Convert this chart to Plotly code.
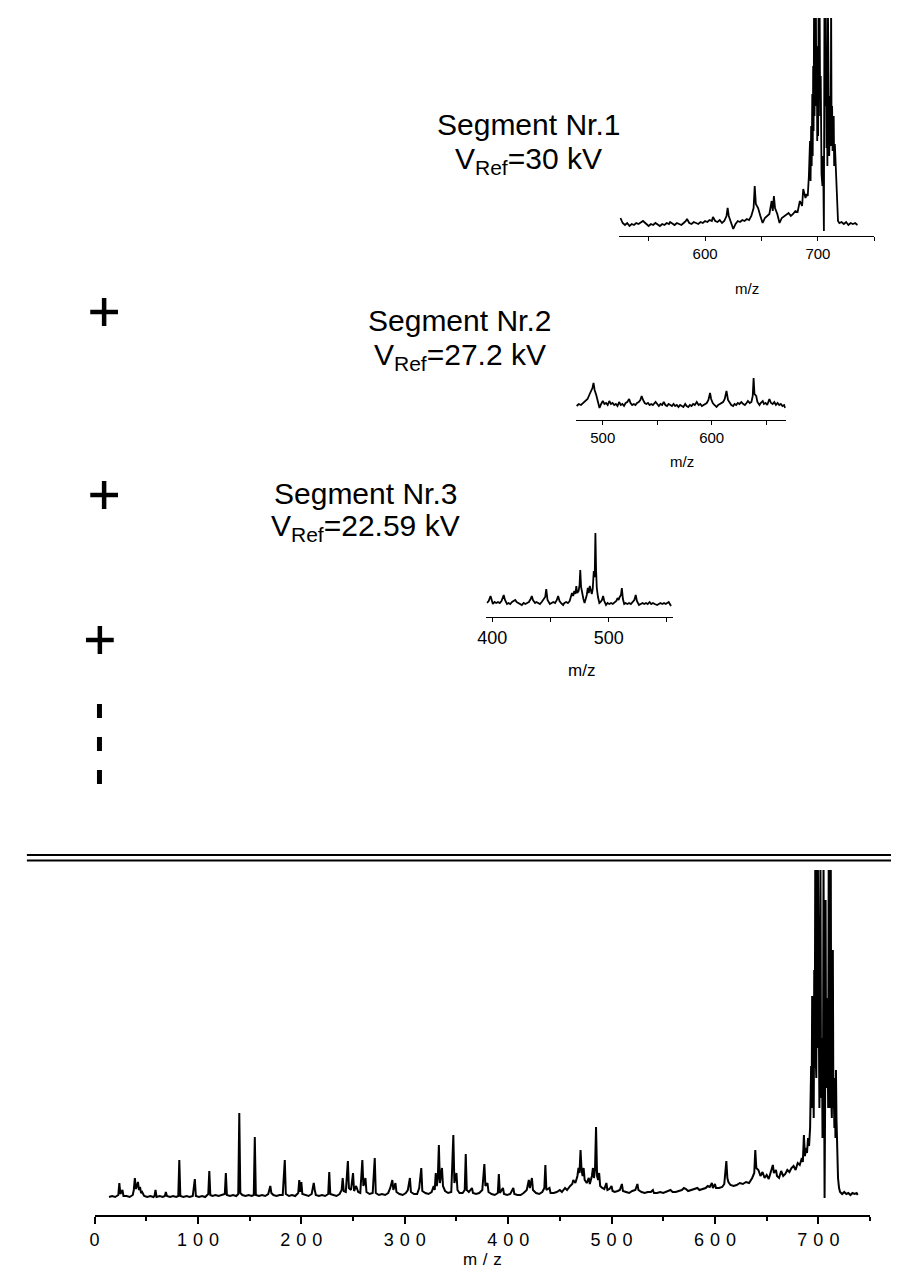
import plotly.graph_objects as go

W, H = 899, 1270

# ---------------- data (m/z, intensity) ----------------
full_mz = [
    14, 17, 20, 23, 24, 25, 27, 28, 31, 34, 37, 38,
    39, 40, 41, 42, 43, 44, 45, 46, 48, 51, 54, 57,
    58, 59, 60, 63, 66, 68, 69, 70, 73, 76, 79, 81,
    82, 83, 86, 89, 92, 95, 97, 98, 101, 104, 107, 110,
    111, 112, 114, 117, 120, 123, 126, 127, 128, 131, 134, 137,
    139, 140, 141, 143, 146, 149, 152, 154, 155, 156, 159, 162,
    165, 168, 170, 171, 173, 176, 179, 182, 184, 185, 188, 191,
    194, 197, 198, 199, 200, 201, 204, 207, 210, 212, 213, 214,
    217, 220, 223, 226, 227, 228, 231, 234, 237, 239, 240, 241,
    243, 245, 246, 248, 250, 251, 253, 255, 257, 259, 260, 262,
    263, 266, 269, 271, 272, 275, 278, 281, 284, 286, 288, 289,
    291, 292, 295, 298, 301, 303, 305, 306, 309, 312, 314, 316,
    317, 320, 323, 326, 328, 329, 330, 331, 332, 333, 334, 335,
    336, 337, 339, 342, 345, 347, 348, 350, 351, 353, 356, 358,
    359, 360, 362, 365, 366, 369, 372, 375, 377, 378, 380, 381,
    384, 387, 390, 391, 392, 395, 396, 399, 402, 405, 406, 409,
    412, 415, 418, 420, 421, 423, 424, 427, 430, 433, 435, 436,
    437, 440, 441, 444, 447, 450, 452, 455, 457, 460, 462, 463,
    465, 467, 468, 469, 470, 471, 472, 473, 474, 476, 478, 479,
    481, 482, 483, 484, 485, 486, 487, 488, 489, 491, 493, 495,
    496, 498, 500, 501, 503, 506, 508, 510, 511, 514, 517, 520,
    523, 525, 526, 529, 532, 535, 538, 540, 541, 544, 547, 550,
    553, 555, 557, 559, 562, 565, 568, 570, 572, 574, 577, 580,
    583, 585, 588, 591, 593, 595, 597, 598, 600, 601, 604, 607,
    609, 611, 612, 613, 615, 618, 621, 624, 627, 630, 633, 636,
    638, 639, 640, 642, 644, 646, 648, 650, 652, 654, 656, 657,
    659, 660, 662, 664, 666, 668, 670, 672, 674, 676, 678, 680,
    682, 684, 685, 686, 687, 688, 689, 690, 691, 692, 693, 693.5,
    694, 694.5, 695, 695.5, 696, 696.5, 697, 697.5, 698, 698.5, 699, 699.5,
    700, 700.5, 701, 701.5, 702, 702.5, 703, 703.5, 704, 704.5, 705, 705.5,
    706, 706.5, 707, 707.5, 708, 708.5, 709, 709.5, 710, 710.5, 711, 711.5,
    712, 712.5, 713, 713.5, 714, 714.5, 715, 715.5, 716, 716.5, 717, 717.5,
    718, 719, 720, 721, 723, 725, 727, 729, 731, 733, 735, 737,
    738,
]
full_int = [
    1, 2, 1, 3, 15, 4, 8, 2, 2, 1, 3, 8,
    20, 9, 12, 16, 8, 11, 5, 6, 2, 1, 2, 1,
    2, 8, 1, 2, 1, 2, 6, 2, 1, 2, 1, 2,
    38, 2, 1, 2, 1, 2, 19, 2, 1, 2, 1, 4,
    27, 3, 2, 3, 2, 3, 4, 25, 3, 2, 3, 2,
    4, 85, 5, 3, 2, 3, 2, 3, 61, 3, 2, 3,
    2, 4, 12, 5, 3, 2, 3, 3, 38, 4, 2, 3,
    2, 5, 18, 6, 16, 4, 3, 2, 4, 15, 8, 3,
    2, 3, 2, 4, 26, 4, 3, 2, 4, 8, 20, 7,
    6, 37, 10, 8, 25, 7, 12, 6, 5, 38, 12, 20,
    6, 4, 5, 40, 5, 3, 4, 3, 5, 10, 18, 8,
    15, 6, 4, 3, 5, 8, 20, 6, 4, 4, 10, 30,
    7, 5, 4, 6, 12, 8, 25, 12, 20, 53, 15, 22,
    30, 12, 7, 5, 6, 63, 15, 25, 8, 5, 5, 8,
    44, 8, 6, 10, 5, 4, 5, 8, 34, 12, 15, 6,
    4, 3, 5, 24, 5, 10, 4, 3, 4, 10, 4, 3,
    3, 5, 8, 18, 10, 20, 8, 5, 4, 6, 10, 33,
    8, 10, 5, 5, 6, 8, 6, 10, 8, 12, 14, 18,
    15, 22, 30, 25, 48, 28, 22, 30, 18, 15, 20, 14,
    22, 30, 20, 28, 71, 22, 18, 25, 12, 10, 9, 15,
    8, 9, 12, 7, 6, 7, 8, 14, 7, 6, 5, 7,
    8, 14, 8, 6, 5, 6, 6, 8, 5, 5, 6, 5,
    6, 7, 8, 6, 6, 7, 8, 10, 9, 7, 8, 9,
    10, 8, 9, 10, 12, 11, 15, 10, 14, 10, 10, 11,
    14, 37, 20, 16, 13, 12, 13, 15, 14, 16, 15, 20,
    25, 48, 30, 28, 22, 26, 20, 23, 19, 25, 33, 25,
    28, 22, 20, 27, 22, 24, 28, 26, 30, 32, 28, 35,
    33, 40, 36, 63, 42, 50, 45, 60, 52, 70, 132, 90,
    202, 110, 150, 80, 228, 130, 340, 140, 120, 340, 150, 340,
    200, 110, 90, 180, 340, 130, 100, 160, 60, 110, 340, 140,
    0, 90, 298, 110, 120, 200, 150, 90, 340, 130, 90, 180,
    340, 100, 80, 130, 248, 90, 100, 70, 120, 60, 128, 80,
    47, 20, 10, 6, 4, 6, 4, 5, 3, 5, 4, 5,
    3,
]

seg1_mz = [
    525, 527, 529, 531, 533, 535, 537, 539, 541, 543, 545, 546,
    548, 550, 552, 554, 556, 558, 560, 562, 564, 566, 568, 569,
    571, 573, 575, 577, 579, 581, 583, 584, 586, 588, 590, 592,
    594, 596, 598, 600, 602, 604, 606, 607, 609, 611, 613, 615,
    617, 619, 620, 621, 623, 625, 627, 629, 631, 633, 635, 637,
    639, 641, 643, 644, 645, 647, 649, 651, 653, 655, 657, 659,
    660, 661, 662, 664, 666, 668, 670, 672, 674, 676, 678, 680,
    682, 684, 686, 687, 689, 690, 691, 692, 693, 693.5, 694, 694.5,
    695, 695.4, 695.8, 696.2, 696.6, 697, 697.4, 697.8, 698.2, 698.6, 699, 699.4,
    699.8, 700.2, 700.6, 701, 701.5, 702, 702.5, 703.2, 704, 704.6, 705.3, 705.8,
    706.3, 706.8, 707.2, 707.6, 708, 708.4, 708.8, 709.2, 709.6, 710, 710.5, 711,
    711.4, 711.7, 712.1, 712.6, 713, 713.5, 714, 714.4, 715, 715.4, 715.8, 716.4,
    717.1, 717.8, 719, 721, 723, 725, 727, 729, 731, 733, 735,
]
seg1_int = [
    8, 3, 1, 3, 0, 2, 1, 3, 2, 4, 5, 4,
    2, 0, 2, 1, 3, 1, 0, 2, 1, 3, 2, 4,
    2, 1, 3, 2, 1, 3, 5, 7, 3, 2, 4, 3,
    2, 4, 3, 5, 4, 6, 5, 9, 5, 4, 6, 3,
    5, 10, 18, 10, 4, -3, 2, 5, 4, 6, 5, 7,
    6, 10, 18, 40, 22, 18, 10, 3, 8, 10, 12, 25,
    15, 30, 18, 12, 3, 8, 10, 12, 13, 10, 12, 15,
    14, 25, 20, 37, 28, 32, 30, 50, 85, 45, 100, 60,
    132, 70, 160, 95, 230, 110, 230, 150, 230, 120, 180, 85,
    150, 90, 230, 130, 230, 110, 150, 52, 40, 70, -5, 230,
    120, 230, 90, 78, 130, 60, 230, 110, 150, 70, 92, 130,
    80, 230, 100, 120, 75, 93, 110, 60, 82, 70, 60, 32,
    15, 5, 3, 4, 2, 4, 1, 3, 2, 3, 1,
]

seg2_mz = [
    476, 478, 480, 482, 484, 486, 488, 489.4, 490.5, 491.5, 492.5, 494,
    495.5, 497, 498.5, 500, 501.5, 503, 504.5, 506, 507.5, 509, 510.5, 512,
    513.5, 515, 516.5, 518, 519.5, 521, 522.5, 524.2, 525.5, 527, 528.5, 530,
    531.5, 533, 534.5, 535.7, 537, 538.5, 540, 541.5, 543, 544.5, 546, 548.5,
    550, 551.5, 553, 554.5, 556, 557.5, 559, 560.5, 562, 563.5, 565, 566.5,
    568, 569.5, 571, 572.5, 574, 575.7, 577, 578.5, 580, 581.5, 583, 584.5,
    586.3, 588, 589.5, 591, 592.5, 594, 595.5, 597, 598.5, 599.5, 601, 602.5,
    604.5, 606, 607.5, 609, 610.5, 612, 613.6, 615, 616.5, 618, 619.7, 621,
    622.5, 624, 625.5, 627.3, 629, 630.5, 632, 633.3, 635, 636.5, 637.7, 638.5,
    639.3, 640.9, 642, 643.9, 645, 646.9, 648, 649.5, 651, 653, 654.5, 656,
    657.5, 659, 660.5, 662, 663.5, 665, 666.5, 667.5,
]
seg2_int = [
    2, 4, 3, 5, 7, 9, 14, 17, 20, 25, 18, 13,
    6, 0, 4, 7, 4, 5, 3, 7, 4, 5, 3, 4,
    2, 6, 3, 4, 2, 5, 6, 9, 5, 3, 4, 3,
    5, 6, 8, 12, 8, 5, 4, 5, 3, 4, 3, 6,
    4, 2, 4, 3, 6, 3, 2, 4, 3, 2, 4, 2,
    3, 1, 3, 2, 1, 4, 2, 1, 3, 2, 4, 3,
    6, 3, 4, 2, 3, 4, 5, 8, 15, 9, 5, 3,
    1, 3, 4, 5, 6, 9, 17, 8, 5, 3, 2, 4,
    3, 5, 4, 6, 4, 3, 5, 7, 5, 6, 12, 30,
    14, 12, 6, 3, 5, 7, 4, 5, 3, 9, 5, 4,
    6, 3, 5, 3, 4, 2, 3, 0,
]

seg3_mz = [
    395.5, 397, 398.6, 399.6, 400.6, 402, 403.5, 405, 406.5, 408, 409.9, 411,
    412.7, 414, 415.5, 417, 418.5, 419.8, 421, 422.5, 424, 425.5, 427, 428.5,
    430, 431.5, 433, 434, 435, 436.8, 438, 439.5, 441, 442.5, 444, 445.5,
    446.4, 447.5, 449.5, 451, 452.5, 454, 455.5, 456.6, 457.8, 459, 460.9, 462,
    463.5, 465, 466.5, 467.5, 468.5, 469.5, 470.5, 471.5, 472.2, 473, 474.2, 475,
    475.6, 476.3, 477.3, 478.3, 479.3, 480.3, 481.2, 482.1, 482.9, 483.8, 484.6, 485.5,
    486.3, 487.2, 488, 488.6, 489.2, 489.8, 490.8, 492, 493, 494.2, 495.2, 496.2,
    497.7, 499, 500.5, 502, 503.5, 505, 506.5, 507.6, 508.5, 509.5, 510.5, 511.3,
    512.2, 513.3, 514.5, 516, 517.5, 519, 520.5, 522, 523.2, 524.2, 526, 527.5,
    529, 530.5, 532, 533.5, 535.1, 536.5, 538, 539.5, 541.6, 543, 544.5, 546,
    547.5, 549, 550.5, 551.5, 552.5, 553.5,
]
seg3_int = [
    2, 4, 9, 5, 1, 3, 2, 3, 2, 4, 10, 5,
    1, 2, 1, 3, 4, 5, 3, 2, 1, 0, 2, 1,
    2, 3, 6, 9, 5, 2, 3, 2, 1, 3, 5, 8,
    16, 5, 1, 2, 3, 2, 5, 9, 4, 2, 0, 2,
    3, 2, 4, 8, 12, 9, 14, 11, 19, 12, 14, 20,
    35, 18, 11, 6, 2, 6, 10, 17, 12, 19, 14, 11,
    16, 34, 28, 72, 35, 17, 8, 2, 3, 5, 9, 4,
    0, 2, 1, 2, 1, 3, 4, 7, 5, 8, 10, 17,
    6, 1, 2, 1, 2, 1, 3, 5, 10, 4, 0, 1,
    2, 1, 2, 1, 3, 1, 2, 1, 0, 1, 2, 1,
    2, 1, 2, 3, 1, -1,
]

full_ticks = [0, 100, 200, 300, 400, 500, 600, 700]
full_minor = [50, 150, 250, 350, 450, 550, 650, 750]
seg1_ticks, seg1_minor = [600, 700], [550, 650, 750]
seg2_ticks, seg2_minor = [500, 600], [550, 650]
seg3_ticks, seg3_minor = [400, 500], [450, 550]

seg_titles = ["Segment Nr.1", "Segment Nr.2", "Segment Nr.3"]
seg_vref = ["30 kV", "27.2 kV", "22.59 kV"]

# ---------------- helpers ----------------
def px(x):
    return x / W


def py(y):
    return 1 - y / H


SANS = "Liberation Sans, Arial, sans-serif"
NARROW = "Liberation Sans Narrow, Arial Narrow, Liberation Sans, sans-serif"

fig = go.Figure()
line = dict(color="black", width=1.8)
fig.add_trace(go.Scatter(x=full_mz, y=full_int, mode="lines", line=dict(color="black", width=2),
                         xaxis="x", yaxis="y", hoverinfo="skip"))
fig.add_trace(go.Scatter(x=seg1_mz, y=seg1_int, mode="lines", line=line, xaxis="x2", yaxis="y2",
                         hoverinfo="skip"))
fig.add_trace(go.Scatter(x=seg2_mz, y=seg2_int, mode="lines", line=line, xaxis="x3", yaxis="y3",
                         hoverinfo="skip"))
fig.add_trace(go.Scatter(x=seg3_mz, y=seg3_int, mode="lines", line=line, xaxis="x4", yaxis="y4",
                         hoverinfo="skip"))


def spaced(v):
    return "\u2004".join(str(v))


def xax(domain, rng, ticks, minor, anchor, font, lw, tl, mtl, ticktext=None):
    d = dict(domain=domain, range=rng, anchor=anchor, showline=True, linecolor="black", linewidth=lw,
             showgrid=False, zeroline=False, ticks="outside", ticklen=tl, tickwidth=lw,
             tickcolor="black", tickmode="array", tickvals=ticks, tickfont=font,
             minor=dict(tickmode="array", tickvals=minor, ticks="outside", ticklen=mtl,
                        tickwidth=lw, tickcolor="black", showgrid=False),
             fixedrange=True)
    if ticktext is not None:
        d["ticktext"] = ticktext
    return d


def yax(domain, rng, anchor):
    return dict(domain=domain, range=rng, anchor=anchor, visible=False, showgrid=False,
                zeroline=False, fixedrange=True)


fig.update_layout(
    width=W, height=H, margin=dict(l=0, r=0, t=0, b=0),
    paper_bgcolor="white", plot_bgcolor="white", showlegend=False,
    xaxis=xax([px(78.3), px(861.7)], [0, 750], full_ticks, full_minor, "y",
              dict(family=SANS, size=18, color="black"), 2, 7, 4,
              ticktext=[spaced(v) for v in full_ticks]),
    yaxis=yax([py(1207), py(862)], [-17, 328], "x"),
    xaxis2=xax([px(608.4), px(866)], [524, 750], seg1_ticks, seg1_minor, "y2",
               dict(family=NARROW, size=15, color="black"), 1, 4, 4),
    yaxis2=yax([py(228), py(10)], [-10, 208], "x2"),
    xaxis3=xax([px(564.2), px(776.5)], [475, 668], seg2_ticks, seg2_minor, "y3",
               dict(family=NARROW, size=15, color="black"), 1, 4, 4),
    yaxis3=yax([py(412), py(360)], [-12, 40], "x3"),
    xaxis4=xax([px(474.1), px(662.4)], [395, 555], seg3_ticks, seg3_minor, "y4",
               dict(family=NARROW, size=18, color="black"), 1, 4, 4),
    yaxis4=yax([py(609), py(480)], [-12, 117], "x4"),
)

# ---------------- annotations ----------------
ann = []


def text(x, y, s, size, family=SANS):
    ann.append(dict(x=px(x), y=py(y), xref="paper", yref="paper", text=s, showarrow=False,
                    xanchor="center", yanchor="middle", font=dict(family=family, size=size, color="black")))


seg_pos = [(517, 117, 152), (447, 312, 348), (352, 485, 520)]
for (cx, y1, y2), t, v in zip(seg_pos, seg_titles, seg_vref):
    text(cx, y1, t, 30)
    text(cx, y2, "V<sub>Ref</sub>=" + v, 30)

text(737, 280, "m/z", 15, NARROW)
text(672, 453, "m/z", 15, NARROW)
text(570, 662, "m/z", 17, NARROW)
text(470, 1251, "m\u2004/\u2004z", 17)

# ---------------- decorations (plus signs, dashes, double rule) ----------------
shapes = []


def seg(x0, y0, x1, y1, w):
    shapes.append(dict(type="line", xref="paper", yref="paper", x0=px(x0), y0=py(y0), x1=px(x1),
                       y1=py(y1), line=dict(color="black", width=w)))


for cx, cy in [(88, 304), (88, 487), (83.7, 632)]:
    seg(cx - 14, cy, cx + 14, cy, 4.5)
    seg(cx, cy - 14, cx, cy + 14, 4.5)

for y0, y1 in [(696, 710), (729, 743), (762, 776)]:
    seg(83.3, y0, 83.3, y1, 5)

seg(10, 847, 899, 847, 2)
seg(10, 852.5, 899, 852.5, 2)

fig.update_layout(annotations=ann, shapes=shapes)

assert len(full_mz) == len(full_int)
assert len(seg1_mz) == len(seg1_int)
assert len(seg2_mz) == len(seg2_int)
assert len(seg3_mz) == len(seg3_int)

fig.write_html("out.html", config={"displayModeBar": False})
